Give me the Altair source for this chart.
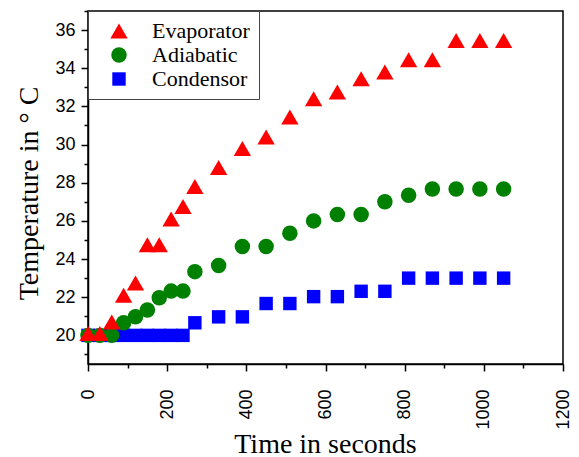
import altair as alt
import pandas as pd

# ---- data ----
times = [0, 30, 60, 90, 120, 150, 180, 210, 240, 270, 330, 390, 450, 510,
         570, 630, 690, 750, 810, 870, 930, 990, 1050]
evaporator = [20.1, 20.1, 20.7, 22.1, 22.75, 24.75, 24.75, 26.1, 26.75, 27.8,
              28.8, 29.8, 30.4, 31.45, 32.4, 32.75, 33.45, 33.8, 34.45, 34.45,
              35.45, 35.45, 35.45]
adiabatic = [20.0, 20.0, 20.0, 20.66, 20.98, 21.33, 21.97, 22.32, 22.32, 23.34,
             23.66, 24.66, 24.66, 25.35, 26.0, 26.34, 26.34, 27.0, 27.34, 27.67,
             27.67, 27.67, 27.67]
condensor = [20.0, 20.0, 20.0, 20.0, 20.0, 20.0, 20.0, 20.0, 20.0, 20.66,
             20.97, 20.97, 21.67, 21.67, 22.03, 22.03, 22.31, 22.31, 23.0, 23.0,
             23.0, 23.0, 23.0]

series_names = ["Evaporator", "Adiabatic", "Condensor"]
series_colors = ["#ff0000", "#008000", "#0000ff"]
series_shapes = ["triangle-up", "circle", "square"]
series_sizes = [300, 180, 185]

x_major = [0, 200, 400, 600, 800, 1000, 1200]
x_minor = [100, 300, 500, 700, 900, 1100]
y_major = [20, 22, 24, 26, 28, 30, 32, 34, 36]
y_minor = [19, 21, 23, 25, 27, 29, 31, 33, 35, 37]

rows = []
for order, (name, vals) in enumerate([("Condensor", condensor),
                                      ("Adiabatic", adiabatic),
                                      ("Evaporator", evaporator)]):
    for t, v in zip(times, vals):
        rows.append({"series": name, "time": t, "temp": v, "layer": order})
df = pd.DataFrame(rows)

x_scale = alt.Scale(domain=[0, 1200], nice=False, zero=False)
y_scale = alt.Scale(domain=[18.5, 37], nice=False, zero=False)

legend = alt.Legend(
    title=None, orient="top-left", offset=0, padding=9,
    symbolOffset=11, labelOffset=22, rowPadding=2,
    labelFont="Liberation Serif", labelFontSize=22, labelColor="black",
    symbolSize=230, symbolStrokeWidth=0,
    strokeColor="#444444", fillColor="white",
)

base = alt.Chart(df)

points = base.mark_point(filled=True, opacity=1, strokeWidth=0).encode(
    x=alt.X("time:Q", scale=x_scale,
            axis=alt.Axis(values=x_major, format="d", title="Time in seconds",
                          orient="bottom",
                          labelAngle=270, labelPadding=18, tickSize=7,
                          labelFont="Liberation Sans", labelFontSize=18,
                          titleFont="Liberation Serif", titleFontSize=28,
                          titleFontWeight="normal", titleBaseline="alphabetic",
                          titleAlign="center", titleX=237, titleY=88)),
    y=alt.Y("temp:Q", scale=y_scale,
            axis=alt.Axis(values=y_major, title="Temperature in\u00a0° C", orient="left",
                          labelPadding=6, tickSize=7,
                          labelFont="Liberation Sans", labelFontSize=18,
                          titleFont="Liberation Serif", titleFontSize=28,
                          titleFontWeight="normal", titleBaseline="alphabetic",
                          titleAlign="center", titleAngle=270,
                          titleX=-51, titleY=182)),
    color=alt.Color("series:N", scale=alt.Scale(domain=series_names, range=series_colors),
                    legend=legend),
    shape=alt.Shape("series:N", scale=alt.Scale(domain=series_names, range=series_shapes),
                    legend=legend),
    size=alt.Size("series:N", scale=alt.Scale(domain=series_names, range=series_sizes),
                  legend=None),
    order=alt.Order("layer:Q"),
)

minor = base.mark_point(opacity=0).encode(
    x=alt.X("time:Q", scale=x_scale,
            axis=alt.Axis(values=x_minor, orient="bottom", labels=False, title=None,
                          tickSize=4, domain=False)),
    y=alt.Y("temp:Q", scale=y_scale,
            axis=alt.Axis(values=y_minor, orient="left", labels=False, title=None,
                          tickSize=4, domain=False)),
)

chart = alt.layer(points, minor).resolve_axis(
    x="independent", y="independent"
).properties(
    width=475, height=353,
    autosize=alt.AutoSizeParams(type="none"),
    padding={"left": 80, "top": 3, "right": 8, "bottom": 93},
    background="white",
).configure_view(
    stroke="black", strokeWidth=1.5
).configure_axis(
    grid=False, domainColor="black", domainWidth=1.5,
    tickColor="black", tickWidth=1.5, labelColor="black", titleColor="black",
)

chart.save("out.html", embed_options={"renderer": "svg", "actions": False})
